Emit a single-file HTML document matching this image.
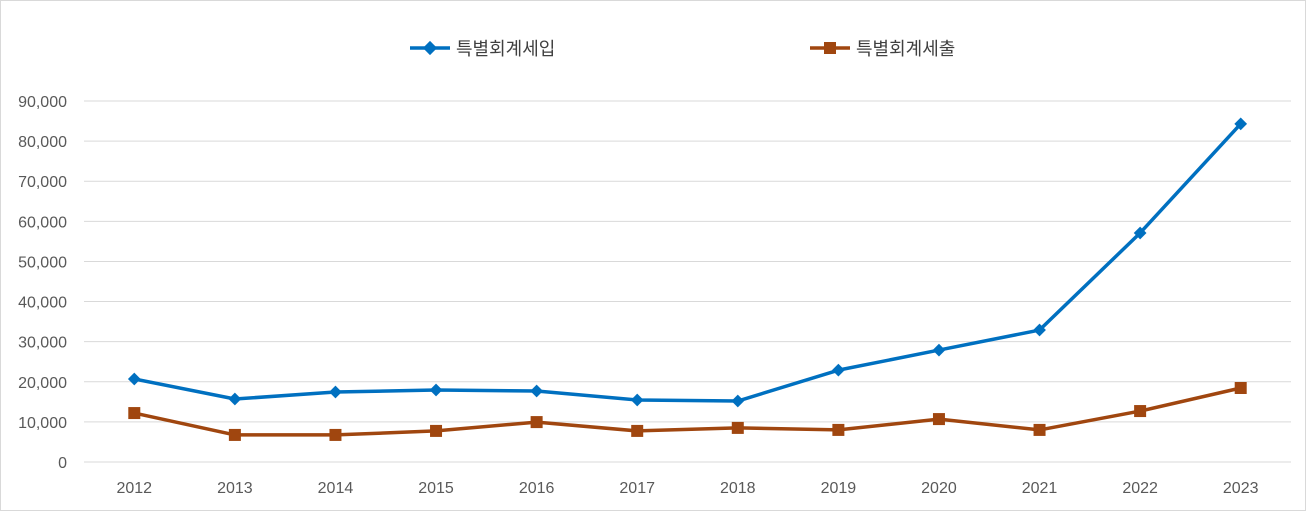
<!DOCTYPE html>
<html><head><meta charset="utf-8"><style>
html,body{margin:0;padding:0;background:#fff}
svg{display:block;font-family:"Liberation Sans","Noto Sans CJK KR",sans-serif}
</style></head><body>
<svg id="chart" width="1306" height="511" viewBox="0 0 1306 511">
<rect x="0.5" y="0.5" width="1305" height="510" fill="#fff" stroke="#d9d9d9"/>
<g id="grid"></g>
<g id="yticks"></g>
<g id="xticks"></g>
<g id="series"></g>
<g>
  <g>
    <line x1="410" y1="48" x2="450" y2="48" stroke="#0070c0" stroke-width="3.5"/>
    <rect x="425" y="43" width="10" height="10" fill="#0070c0" transform="rotate(45 430 48)"/>
    <text x="456" y="55" font-size="18" fill="#404040">특별회계세입</text>
  </g>
  <g>
    <line x1="810" y1="48" x2="850" y2="48" stroke="#a0460f" stroke-width="3.5"/>
    <rect x="824" y="42" width="12" height="12" fill="#a0460f"/>
    <text x="856" y="55" font-size="18" fill="#404040">특별회계세출</text>
  </g>
</g>
</svg>
<script>
const categories=["2012","2013","2014","2015","2016","2017","2018","2019","2020","2021","2022","2023"];
const incomeValues=[20700,15700,17450,17950,17700,15450,15200,22900,27900,32900,57100,84300];
const expenseValues=[12200,6750,6750,7750,9950,7750,8500,8000,10700,8000,12700,18450];
const yTicks=[0,10000,20000,30000,40000,50000,60000,70000,80000,90000];
const NS="http://www.w3.org/2000/svg";
const left=84,right=1291,y0=462,yTop=101,yMax=90000;
const step=(right-left)/categories.length;
const xPos=i=>left+step*(i+0.5);
const yPos=v=>y0-(v/yMax)*(y0-yTop);
function mk(tag,attrs,parent){const e=document.createElementNS(NS,tag);for(const k in attrs)e.setAttribute(k,attrs[k]);parent.appendChild(e);return e;}
const grid=document.getElementById('grid'),yt=document.getElementById('yticks'),xt=document.getElementById('xticks'),ser=document.getElementById('series');
yTicks.forEach(v=>{
  const l=mk('line',{x1:left,x2:right,y1:yPos(v),y2:yPos(v),stroke:'#d9d9d9','stroke-width':1},grid);
  
  
  const t=mk('text',{x:67,y:yPos(v)+6,'text-anchor':'end','font-size':16,fill:'#595959'},yt);
  t.textContent=v.toLocaleString('en-US');
  
  
});
categories.forEach((c,i)=>{
  const t=mk('text',{x:xPos(i),y:493,'text-anchor':'middle','font-size':16,fill:'#595959'},xt);
  t.textContent=c;
  
  
});
function drawSeries(vals,color,marker,name){
  const pts=vals.map((v,i)=>xPos(i)+','+yPos(v)).join(' ');
  const pl=mk('polyline',{points:pts,fill:'none',stroke:color,'stroke-width':3.5,'stroke-linejoin':'round'},ser);
  
  
  vals.forEach((v,i)=>{
    const x=xPos(i),y=yPos(v);let m;
    if(marker==='diamond'){m=mk('rect',{x:x-4.5,y:y-4.5,width:9,height:9,fill:color,transform:`rotate(45 ${x} ${y})`},ser);}
    else{m=mk('rect',{x:x-6,y:y-6,width:12,height:12,fill:color},ser);}
    
    
  });
}
drawSeries(incomeValues,'#0070c0','diamond','income');
drawSeries(expenseValues,'#a0460f','square','expense');
</script>
</body></html>
